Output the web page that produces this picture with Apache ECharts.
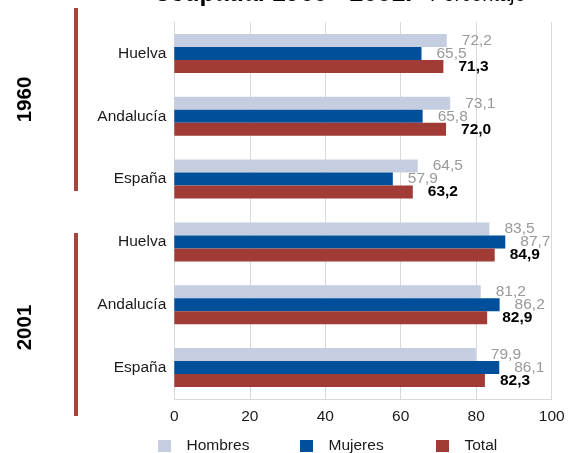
<!DOCTYPE html>
<html>
<head>
<meta charset="utf-8">
<script src="https://cdn.jsdelivr.net/npm/echarts@6/dist/echarts.min.js"></script>
<style>
html,body{margin:0;padding:0;background:#fff;}
#c{width:571px;height:453px;}
</style>
</head>
<body>
<div id="c"></div>
<script>
// ---- data ----
var years = ['1960', '2001'];
var regions = ['Huelva', 'Andalucía', 'España'];
var hombres = [72.2, 73.1, 64.5, 83.5, 81.2, 79.9];
var mujeres = [65.5, 65.8, 57.9, 87.7, 86.2, 86.1];
var total   = [71.3, 72.0, 63.2, 84.9, 82.9, 82.3];
var xTicks  = [0, 20, 40, 60, 80, 100];
var seriesNames = ['Hombres', 'Mujeres', 'Total'];

var categories = [];
years.forEach(function (y) { regions.forEach(function (r) { categories.push(y + '|' + r); }); });

var FONT = 'Liberation Sans, Arial, sans-serif';
function fmt(v) { return v.toFixed(1).replace('.', ','); }

var chart = echarts.init(document.getElementById('c'));
function legendAt(name, left) {
  return {
    data: [name], left: left, top: 433, icon: 'rect', itemWidth: 13, itemHeight: 12,
    itemGap: 0, selectedMode: false,
    textStyle: { fontFamily: FONT, fontSize: 15.5, color: '#1a1a1a', padding: [0, 0, 0, 10.5] }
  };
}
function barSeries(name, data, color, labelColor, bold) {
  return {
    name: name, type: 'bar', data: data, barWidth: 13, barGap: '0%',
    itemStyle: { color: color },
    label: {
      show: true, position: 'right', distance: 15,
      formatter: function (p) { return fmt(p.value); },
      fontFamily: FONT, fontSize: 15.5, color: labelColor,
      fontWeight: bold ? 'bold' : 'normal'
    }
  };
}
chart.setOption({
  animation: false,
  backgroundColor: '#fff',
  grid: { left: 174.3, right: 19.3, top: 22, bottom: 54, containLabel: false },
  xAxis: {
    type: 'value', min: xTicks[0], max: xTicks[xTicks.length - 1], interval: 20,
    axisLine: { show: true, lineStyle: { color: '#d9d9d9', width: 1 } },
    axisTick: { show: false },
    splitLine: { show: true, lineStyle: { color: '#d9d9d9', width: 1 } },
    axisLabel: { fontFamily: FONT, fontSize: 15.5, color: '#1a1a1a', margin: 10 }
  },
  yAxis: {
    type: 'category', data: categories, inverse: true,
    axisLine: { show: true, lineStyle: { color: '#d9d9d9', width: 1 } },
    axisTick: { show: false },
    axisLabel: {
      fontFamily: FONT, fontSize: 15.5, color: '#1a1a1a', margin: 8,
      formatter: function (v) { return v.split('|')[1]; }
    }
  },
  legend: [legendAt(seriesNames[0], 153), legendAt(seriesNames[1], 295), legendAt(seriesNames[2], 431)],
  series: [
    barSeries(seriesNames[0], hombres, '#c5cde0', '#999999', false),
    barSeries(seriesNames[1], mujeres, '#004f9b', '#999999', false),
    barSeries(seriesNames[2], total, '#a03c35', '#000000', true)
  ],
  graphic: [
    { type: 'text', left: 155, top: -18, style: { text: 'ocupada. 1960 - 2001.', font: 'bold 25px ' + FONT, fill: '#000' } },
    { type: 'text', left: 430, top: -14.5, style: { text: 'Porcentaje', font: '20px ' + FONT, fill: '#000' } },
    { type: 'rect', shape: { x: 74, y: 8, width: 4, height: 183 }, style: { fill: '#a8443d' } },
    { type: 'rect', shape: { x: 74, y: 233, width: 4, height: 183 }, style: { fill: '#a8443d' } },
    { type: 'text', x: 25, y: 99.5, rotation: Math.PI / 2,
      style: { text: years[0], font: 'bold 20.5px ' + FONT, fill: '#000', align: 'center', verticalAlign: 'middle' } },
    { type: 'text', x: 25, y: 327.5, rotation: Math.PI / 2,
      style: { text: years[1], font: 'bold 20.5px ' + FONT, fill: '#000', align: 'center', verticalAlign: 'middle' } }
  ]
});
</script>
</body>
</html>
